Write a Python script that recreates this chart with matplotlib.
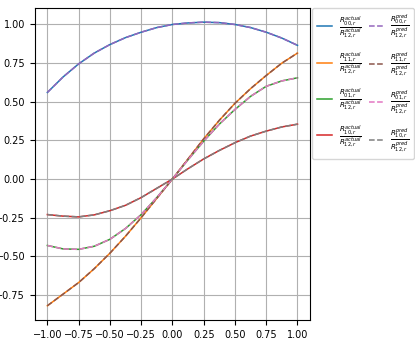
import matplotlib
matplotlib.use("Agg")
import matplotlib.pyplot as plt
import numpy as np

# --- Data ---
x = [-1.0, -0.875, -0.75, -0.625, -0.5, -0.375, -0.25, -0.125, 0.0,
     0.125, 0.25, 0.375, 0.5, 0.625, 0.75, 0.875, 1.0]

r00_actual = [0.56, 0.66, 0.745, 0.815, 0.87, 0.915, 0.95, 0.98, 1.00,
              1.01, 1.015, 1.012, 1.00, 0.98, 0.95, 0.912, 0.865]
r11_actual = [-0.82, -0.745, -0.67, -0.58, -0.48, -0.37, -0.25, -0.125, 0.0,
              0.13, 0.26, 0.38, 0.49, 0.585, 0.67, 0.75, 0.815]
r01_actual = [-0.43, -0.452, -0.455, -0.435, -0.39, -0.32, -0.23, -0.12, 0.0,
              0.125, 0.245, 0.355, 0.45, 0.535, 0.60, 0.635, 0.655]
r10_actual = [-0.23, -0.24, -0.245, -0.232, -0.205, -0.17, -0.12, -0.06, 0.0,
              0.067, 0.13, 0.185, 0.235, 0.278, 0.31, 0.337, 0.355]

# predictions sit right on top of the actual curves
r00_pred = list(r00_actual)
r11_pred = list(r11_actual)
r01_pred = list(r01_actual)
r10_pred = list(r10_actual)

actual = [r00_actual, r11_actual, r01_actual, r10_actual]
pred = [r00_pred, r11_pred, r01_pred, r10_pred]
idx = ["00", "11", "01", "10"]

# --- Plot ---
plt.rcParams["font.size"] = 7
fig = plt.figure(figsize=(4.15, 3.47), dpi=100)
ax = fig.add_axes([0.084, 0.078, 0.663, 0.899])

for i, ys in enumerate(actual):
    ax.plot(x, ys, color=f"C{i}", linewidth=1.1,
            label=r"$\frac{R^{actual}_{%s,r}}{R^{actual}_{12,r}}$" % idx[i])
for i, ys in enumerate(pred):
    ax.plot(x, ys, color=f"C{i + 4}", linewidth=1.1, linestyle="--",
            label=r"$\frac{R^{pred}_{%s,r}}{R^{pred}_{12,r}}$" % idx[i])

ax.set_xticks(np.arange(-1.0, 1.01, 0.25))
ax.set_yticks(np.arange(-0.75, 1.01, 0.25))
ax.grid(True)
ax.legend(loc="upper left", bbox_to_anchor=(1.008, 1.0), borderaxespad=0,
          ncol=2, fontsize=7.3, handlelength=1.5, handletextpad=0.6,
          columnspacing=0.7, labelspacing=1.05, borderpad=0.5)

plt.savefig("out.png", dpi=100)
